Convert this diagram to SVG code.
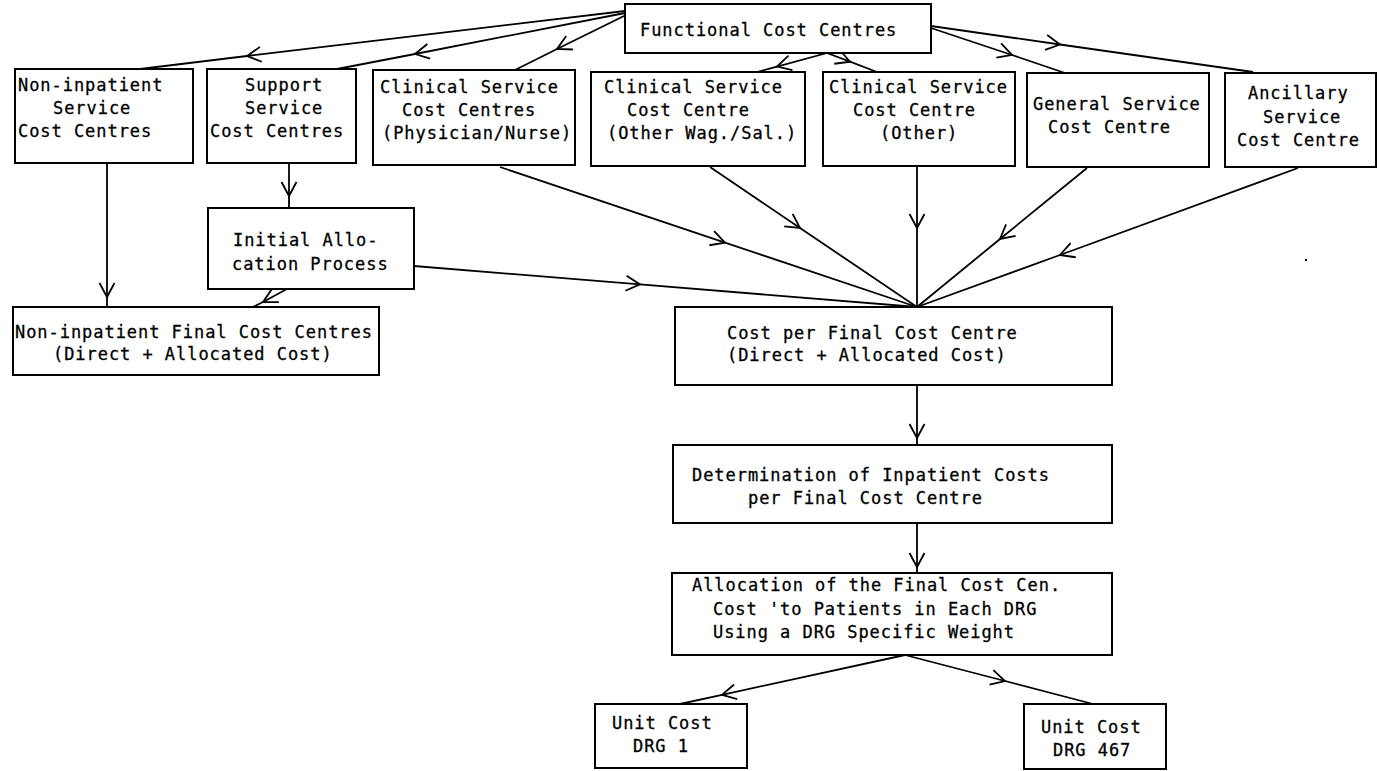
<svg xmlns="http://www.w3.org/2000/svg" width="1379" height="771" viewBox="0 0 1379 771">
  <style>
    .box { fill: #fff; stroke: #000; stroke-width: 2; }
    .lbl { font-family: "DejaVu Sans Mono", "Liberation Mono", monospace; font-size: 17px; letter-spacing: 0.95px; fill: #000; stroke: #000; stroke-width: 0.3; }
    .con { fill: none; stroke: #000; stroke-width: 1.8; marker-mid: url(#chev); }
  </style>
  <defs>
    <!-- open chevron placed part-way along each connector -->
    <marker id="chev" markerUnits="userSpaceOnUse" markerWidth="30" markerHeight="30" viewBox="-15 -15 30 30" refX="0" refY="0" orient="auto" overflow="visible">
      <path d="M-14,-7.5 L0,0 L-14,7.5" fill="none" stroke="#000" stroke-width="1.8"/>
    </marker>
  </defs>
  <rect width="1379" height="771" fill="#fff"/>

  <g id="connectors">
    <path class="con" d="M625,11 L247,56 L140,69"/>
    <path class="con" d="M625,13 L415,54 L337,69"/>
    <path class="con" d="M626,15 L557,49 L515,70"/>
    <path class="con" d="M827,53 L777,66.6 L757,72"/>
    <path class="con" d="M827,53 L850,61.7 L877,72"/>
    <path class="con" d="M931,28 L1012,55 L1065,73"/>
    <path class="con" d="M931,26 L1060,44.5 L1253,72"/>
    <path class="con" d="M107,163 L107,297 L107,307"/>
    <path class="con" d="M289,163 L289,196 L289,208"/>
    <path class="con" d="M287,289 L263,302 L253,307"/>
    <path class="con" d="M414,266 L640,284.4 L917,307"/>
    <path class="con" d="M500,167 L725,242.6 L917,307"/>
    <path class="con" d="M710,167 L800,228 L917,307"/>
    <path class="con" d="M917,167 L917,228 L917,307"/>
    <path class="con" d="M1087,168 L1000,239 L917,307"/>
    <path class="con" d="M1298,168 L1060,255 L917,307"/>
    <path class="con" d="M917,385 L917,438 L917,445"/>
    <path class="con" d="M917,523 L917,567 L917,573"/>
    <path class="con" d="M905,655 L722,694.8 L680,704"/>
    <path class="con" d="M905,655 L1005,681 L1093,704"/>
    <circle cx="1306" cy="260" r="1.2" fill="#000"/>
  </g>

  <g id="functional">
    <rect class="box" x="625" y="4" width="306" height="49"/>
    <text class="lbl" x="640" y="36">Functional Cost Centres</text>
  </g>

  <g id="noninpatient-service">
    <rect class="box" x="15" y="69" width="178" height="94"/>
    <text class="lbl" x="18" y="91">Non-inpatient</text>
    <text class="lbl" x="53" y="114">Service</text>
    <text class="lbl" x="18" y="137">Cost Centres</text>
  </g>

  <g id="support-service">
    <rect class="box" x="207" y="69" width="149" height="94"/>
    <text class="lbl" x="245" y="91">Support</text>
    <text class="lbl" x="245" y="114">Service</text>
    <text class="lbl" x="210" y="137">Cost Centres</text>
  </g>

  <g id="clinical-physician">
    <rect class="box" x="373" y="70" width="202" height="95"/>
    <text class="lbl" x="380" y="93">Clinical Service</text>
    <text class="lbl" x="402" y="116">Cost Centres</text>
    <text class="lbl" x="382" y="139">(Physician/Nurse)</text>
  </g>

  <g id="clinical-wages">
    <rect class="box" x="591" y="72" width="214" height="94"/>
    <text class="lbl" x="604" y="93">Clinical Service</text>
    <text class="lbl" x="627" y="116">Cost Centre</text>
    <text class="lbl" x="607" y="139">(Other Wag./Sal.)</text>
  </g>

  <g id="clinical-other">
    <rect class="box" x="823" y="72" width="192" height="94"/>
    <text class="lbl" x="829" y="93">Clinical Service</text>
    <text class="lbl" x="853" y="116">Cost Centre</text>
    <text class="lbl" x="880" y="139">(Other)</text>
  </g>

  <g id="general-service">
    <rect class="box" x="1027" y="73" width="182" height="94"/>
    <text class="lbl" x="1033" y="110">General Service</text>
    <text class="lbl" x="1048" y="133">Cost Centre</text>
  </g>

  <g id="ancillary-service">
    <rect class="box" x="1225" y="73" width="151" height="94"/>
    <text class="lbl" x="1248" y="99">Ancillary</text>
    <text class="lbl" x="1263" y="123">Service</text>
    <text class="lbl" x="1237" y="146">Cost Centre</text>
  </g>

  <g id="initial-allocation">
    <rect class="box" x="208" y="208" width="206" height="81"/>
    <text class="lbl" x="233" y="246">Initial Allo-</text>
    <text class="lbl" x="232" y="270">cation Process</text>
  </g>

  <g id="noninpatient-final">
    <rect class="box" x="13" y="307" width="366" height="68"/>
    <text class="lbl" x="15" y="338">Non-inpatient Final Cost Centres</text>
    <text class="lbl" x="53" y="360">(Direct + Allocated Cost)</text>
  </g>

  <g id="cost-per-final">
    <rect class="box" x="675" y="307" width="437" height="78"/>
    <text class="lbl" x="727" y="339">Cost per Final Cost Centre</text>
    <text class="lbl" x="727" y="361">(Direct + Allocated Cost)</text>
  </g>

  <g id="inpatient-costs">
    <rect class="box" x="673" y="445" width="439" height="78"/>
    <text class="lbl" x="692" y="481">Determination of Inpatient Costs</text>
    <text class="lbl" x="748" y="504">per Final Cost Centre</text>
  </g>

  <g id="drg-allocation">
    <rect class="box" x="672" y="573" width="440" height="82"/>
    <text class="lbl" x="692" y="591">Allocation of the Final Cost Cen.</text>
    <text class="lbl" x="713" y="615">Cost 'to Patients in Each DRG</text>
    <text class="lbl" x="713" y="638">Using a DRG Specific Weight</text>
  </g>

  <g id="unit-cost-drg1">
    <rect class="box" x="595" y="704" width="152" height="64"/>
    <text class="lbl" x="612" y="729">Unit Cost</text>
    <text class="lbl" x="633" y="752">DRG 1</text>
  </g>

  <g id="unit-cost-drg467">
    <rect class="box" x="1024" y="704" width="142" height="65"/>
    <text class="lbl" x="1041" y="733">Unit Cost</text>
    <text class="lbl" x="1053" y="756">DRG 467</text>
  </g>
</svg>
